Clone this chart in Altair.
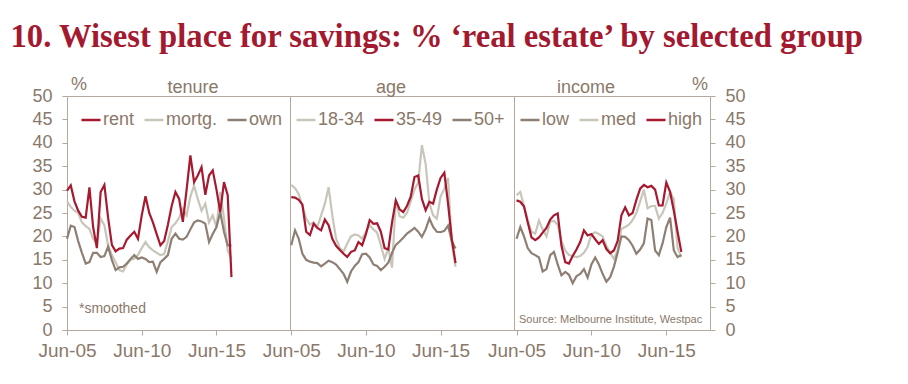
import altair as alt
import pandas as pd

# ---------------- data (quarterly, Jun-05 .. Jun-16) ----------------
quarters = pd.date_range("2005-06-01", periods=45, freq="3MS")

rent = [29.8, 30.9, 27.5, 25.5, 24.2, 24.0, 30.5, 22.0, 17.5, 29.5,
        31.0, 24.0, 18.2, 16.8, 17.4, 17.5, 19.3, 20.2, 21.0, 19.5,
        24.5, 28.6, 25.0, 23.0, 20.5, 18.1, 19.0, 22.5, 26.5, 29.5,
        28.0, 23.1, 30.0, 37.3, 31.6, 33.0, 34.8, 28.9, 33.0, 34.1,
        30.0, 25.2, 31.6, 28.8, 11.3]
mortg = [27.5, 26.3, 25.5, 25.0, 23.0, 22.2, 21.6, 19.5, 18.5, 23.8,
         22.4, 18.0, 16.0, 14.5, 12.8, 12.5, 14.0, 15.0, 15.2, 16.0,
         17.5, 18.8, 17.7, 17.0, 16.5, 16.0, 16.2, 19.0, 22.0, 22.8,
         24.0, 25.9, 24.5, 28.5, 30.9, 28.0, 25.5, 27.0, 23.0, 24.5,
         22.0, 29.5, 24.0, 17.0, 15.2]
own = [19.5, 22.3, 22.0, 19.0, 16.5, 14.2, 14.5, 16.5, 16.5, 15.6,
       15.8, 17.8, 15.0, 12.8, 13.4, 13.5, 14.2, 15.2, 16.0, 15.2,
       15.5, 15.2, 14.5, 14.6, 12.4, 14.5, 15.2, 16.0, 19.5, 20.6,
       19.5, 19.3, 19.9, 21.5, 23.0, 23.4, 23.2, 22.7, 18.8, 20.5,
       22.0, 25.2, 21.0, 18.1, 18.1]

age_18_34 = [31.0, 30.3, 29.0, 26.5, 23.8, 22.5, 23.0, 22.0, 24.5, 27.0,
             30.5, 24.5, 19.5, 17.5, 16.8, 18.5, 20.0, 20.4, 20.2, 19.5,
             21.0, 22.4, 21.5, 20.8, 18.1, 15.2, 17.5, 13.3, 27.7, 24.3,
             24.0, 25.0, 27.5, 30.0, 31.5, 39.5, 35.5, 27.0, 24.5, 23.8,
             28.5, 30.2, 32.5, 18.5, 13.5]
age_35_49 = [28.4, 28.3, 27.8, 26.8, 21.0, 20.3, 22.7, 21.8, 21.3, 23.6,
             22.4, 19.5, 18.0, 17.1, 16.3, 15.6, 16.7, 17.0, 18.8, 18.1,
             20.5, 23.5, 22.7, 22.8, 21.0, 17.5, 17.2, 23.0, 27.7, 25.8,
             25.2, 26.5, 28.5, 32.7, 33.0, 28.0, 25.6, 27.4, 27.0, 30.0,
             32.5, 33.6, 27.0, 19.5, 14.3]
age_50p = [18.1, 21.3, 19.5, 16.3, 15.0, 14.6, 14.4, 14.3, 13.6, 14.2,
           14.8, 14.5, 14.0, 13.0, 12.0, 10.3, 12.5, 13.7, 14.5, 16.2,
           16.3, 15.5, 14.0, 13.7, 12.8, 13.5, 14.4, 16.5, 18.2, 18.9,
           19.7, 20.6, 21.2, 21.8, 21.0, 19.9, 21.5, 23.8, 22.0, 21.0,
           20.9, 21.2, 22.3, 19.0, 17.4]

inc_low = [19.5, 22.0, 20.0, 17.5, 16.4, 16.0, 15.5, 12.5, 13.0, 16.0,
           16.7, 14.0, 11.7, 12.4, 11.8, 10.0, 11.5, 12.0, 13.0, 11.2,
           14.0, 15.5, 14.0, 12.0, 10.3, 11.3, 13.5, 16.5, 20.0, 19.9,
           19.2, 18.0, 16.3, 17.2, 18.5, 23.8, 23.5, 17.0, 16.0, 18.5,
           22.0, 24.0, 17.0, 15.6, 16.0]
inc_med = [28.8, 29.5, 26.5, 23.5, 21.0, 20.6, 23.4, 21.5, 20.0, 23.2,
           23.3, 22.5, 19.0, 17.0, 16.0, 15.8, 15.6, 15.8, 16.5, 17.8,
           20.4, 20.9, 20.5, 20.0, 18.0, 16.5, 15.2, 17.0, 21.6, 22.0,
           22.5, 23.5, 25.0, 27.5, 30.0, 26.0, 26.5, 26.5, 23.8, 25.0,
           27.0, 29.5, 28.0, 17.5, 15.6]
inc_high = [27.7, 27.4, 26.4, 23.0, 19.8, 19.2, 19.8, 20.8, 21.8, 23.6,
            24.5, 24.9, 18.0, 14.5, 14.2, 15.8, 17.2, 18.8, 21.3, 20.2,
            20.5, 19.4, 18.4, 19.2, 17.3, 16.4, 17.0, 19.0, 24.5, 26.2,
            24.5, 25.0, 27.8, 30.2, 31.0, 30.5, 30.8, 30.0, 26.6, 26.6,
            31.5, 29.5, 25.5, 21.0, 16.7]

y_ticks = list(range(0, 51, 5))

# ---------------- style ----------------
RED = "#a6192e"
LGRAY = "#c8c6ba"
TAUPE = "#8e7f74"
TEXT = "#8a786a"
FRAME = "#b3a99f"
FONT = "Liberation Sans"
PANEL_H = 234


def dt(y, m):
    return alt.DateTime(year=y, month=m, date=1)


def long_df(names, series):
    rows = []
    for n, s in zip(names, series):
        for d, v in zip(quarters, s):
            rows.append({"date": d, "group": n, "value": v})
    return pd.DataFrame(rows)


def note(text, x, y, size=18, align="left", color=TEXT):
    return alt.Chart(pd.DataFrame({"t": [text]})).mark_text(
        align=align, baseline="alphabetic", fontSize=size, font=FONT, color=color
    ).encode(x=alt.value(x), y=alt.value(y), text="t:N")


def panel(legend_names, colors, draw_order, series, domain, width, yaxis,
          legend_x, notes):
    df = long_df(draw_order, series)
    lines = alt.Chart(df).mark_line(strokeWidth=2.2).encode(
        x=alt.X("date:T", title=None,
                scale=alt.Scale(domain=domain),
                axis=alt.Axis(values=[dt(2005, 6), dt(2010, 6), dt(2015, 6)],
                              format="%b-%y", labelFlush=False, labelOverlap=False,
                              labelFontSize=19, labelColor=TEXT, labelFont=FONT,
                              tickColor=FRAME, tickSize=5, domain=False,
                              grid=False, labelPadding=6)),
        y=alt.Y("value:Q", title=None, scale=alt.Scale(domain=[0, 50]),
                axis=yaxis),
        color=alt.Color("group:N",
                        scale=alt.Scale(domain=legend_names, range=colors),
                        legend=alt.Legend(title=None, orient="none",
                                          legendX=legend_x, legendY=13,
                                          direction="horizontal",
                                          symbolType="stroke", symbolSize=361,
                                          symbolStrokeWidth=2.5,
                                          labelFontSize=18, labelColor=TEXT,
                                          labelFont=FONT, labelOffset=1,
                                          columnPadding=4, padding=0)),
    )
    return alt.layer(lines, *notes).properties(width=width, height=PANEL_H)


def yaxis(orient):
    return alt.Axis(values=y_ticks, orient=orient, labelFontSize=18,
                    labelColor=TEXT, labelFont=FONT, tickColor=FRAME,
                    tickSize=5, domain=False, grid=False, labelPadding=10)


p1 = panel(["rent", "mortg.", "own"], [RED, LGRAY, TAUPE],
           ["mortg.", "own", "rent"], [mortg, own, rent],
           [dt(2005, 6), dt(2020, 5)], 223, yaxis("left"), 13,
           [note("%", 4, -6), note("tenure", 126, -3, align="center"),
            note("*smoothed", 12, 217, size=14)])

p2 = panel(["18-34", "35-49", "50+"], [LGRAY, RED, TAUPE],
           ["18-34", "50+", "35-49"], [age_18_34, age_50p, age_35_49],
           [dt(2005, 5), dt(2020, 5)], 224, None, 5,
           [note("age", 101, -3, align="center")])

p3 = panel(["low", "med", "high"], [TAUPE, LGRAY, RED],
           ["med", "low", "high"], [inc_med, inc_low, inc_high],
           [dt(2005, 4), dt(2018, 5)], 196, yaxis("right"), 5,
           [note("income", 72, -3, align="center"),
            note("%", 194, -6, align="right"),
            note("Source: Melbourne Institute, Westpac", 5, 227, size=11)])

chart = alt.hconcat(p1, p2, p3, spacing=0, bounds="flush").resolve_scale(
    color="independent", x="independent", y="independent"
).resolve_legend(color="independent").properties(
    title=alt.TitleParams(
        "10. Wisest place for savings: % \u2018real estate\u2019 by selected group",
        font="Liberation Serif", fontSize=32.7, fontWeight="bold",
        color="#a3192f", anchor="start", dx=-21, offset=22),
    padding={"left": 2, "top": 12, "right": 5, "bottom": 5},
    background="white",
).configure_view(stroke=FRAME, strokeWidth=1)

chart.save("out.html", embed_options={"renderer": "svg", "actions": False})
